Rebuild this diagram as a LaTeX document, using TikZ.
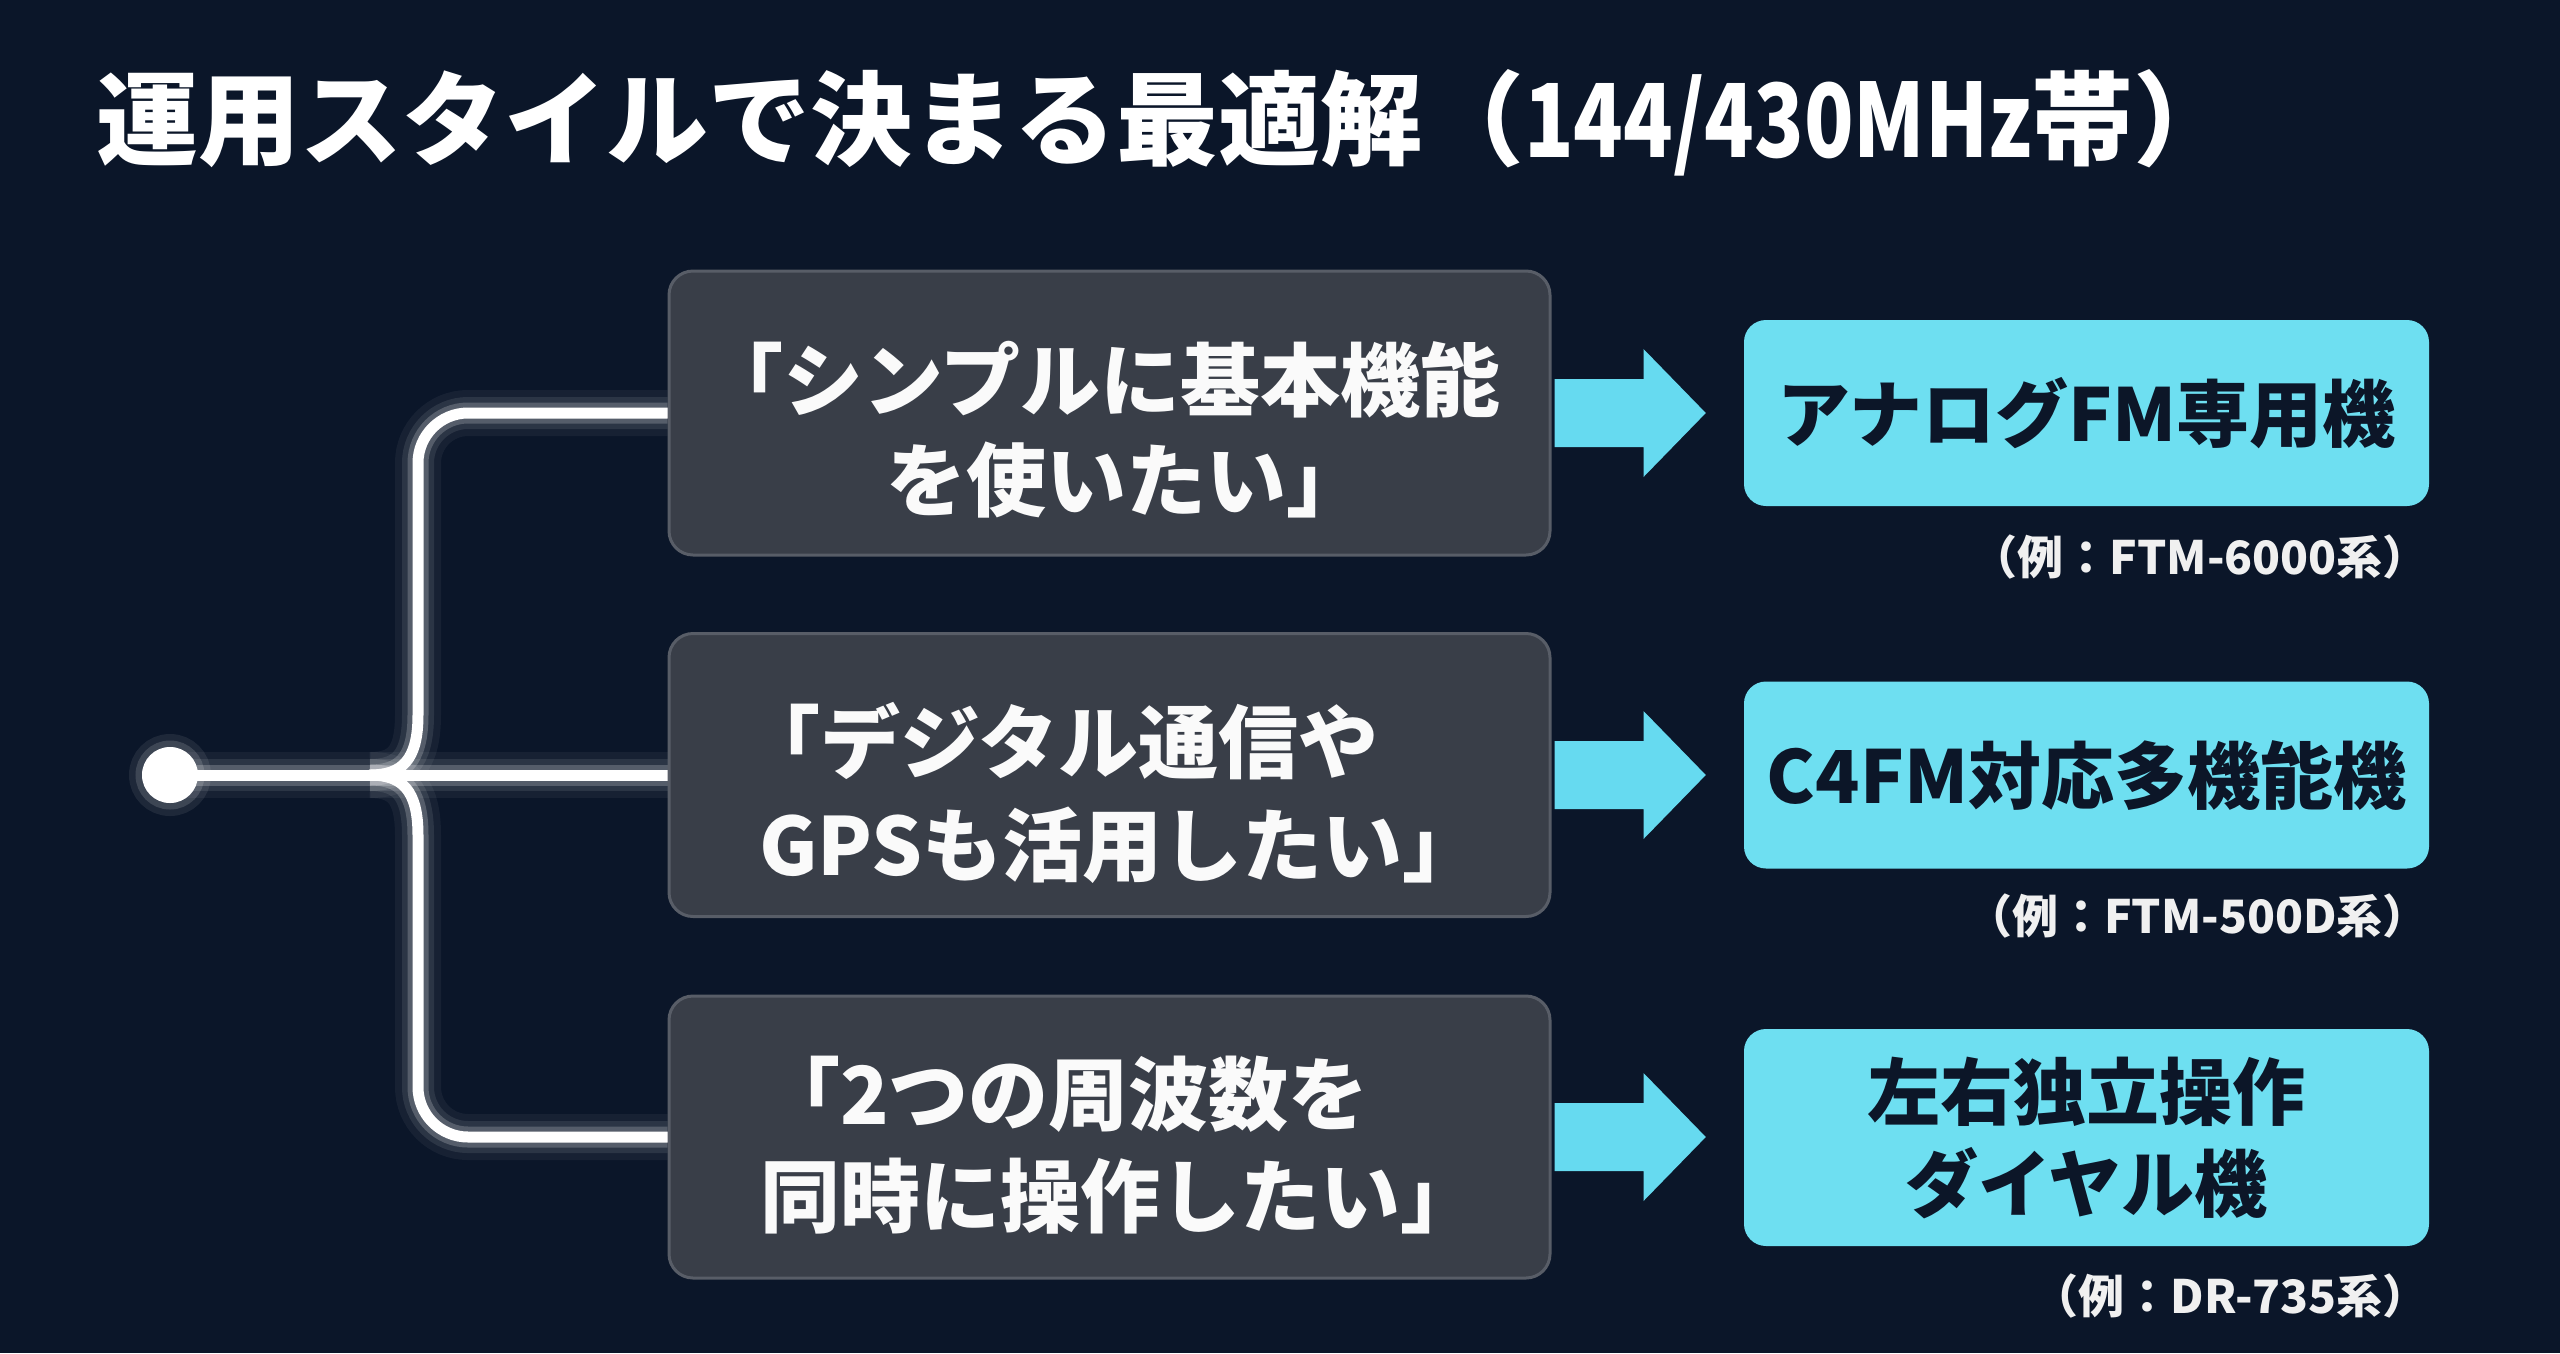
\documentclass[tikz,border=0pt]{standalone}
\usepackage{fontspec}
\usepackage{graphicx}
\setmainfont{Noto Sans CJK JP}
\usetikzlibrary{calc}
\definecolor{bgc}{RGB}{11,22,41}
\definecolor{grayfill}{RGB}{57,62,72}
\definecolor{grayedge}{RGB}{88,93,103}
\definecolor{cyanc}{RGB}{110,223,241}
\definecolor{arrowc}{RGB}{102,218,240}
\definecolor{navytext}{RGB}{12,22,40}
\definecolor{whitetext}{RGB}{250,250,250}
\pgfdeclarelayer{bgfill}
\pgfdeclarelayer{wires}
\pgfsetlayers{bgfill,wires,main}
\newcommand\titlefont{\fontsize{102}{112}\selectfont\bfseries}
\newcommand\qfont{\fontsize{80}{100}\selectfont\bfseries}
\newcommand\afont{\fontsize{73}{92}\selectfont\bfseries}
\newcommand\exfont{\fontsize{46}{56}\selectfont\bfseries}
\newcommand\myarrow[2]{%
  \fill[arrowc] ($(#1.east)+(3,-34)$) -- ($(#1.east)+(92,-34)$) -- ($(#1.east)+(92,-64)$)
    -- ($(#1.east -| #2.west)+(-38,0)$) -- ($(#1.east)+(92,64)$) -- ($(#1.east)+(92,34)$)
    -- ($(#1.east)+(3,34)$) -- cycle;}
\begin{document}
\begin{tikzpicture}[x=1pt,y=-1pt,
  graybox/.style={draw=grayedge, line width=3pt, fill=grayfill, rounded corners=24pt,
    inner sep=0pt, minimum width=881pt},
  cyanbox/.style={fill=cyanc, rounded corners=22pt, inner sep=0pt, minimum width=685pt,
    text=navytext, align=center, font=\afont},
  qline/.style={anchor=base west, inner sep=0pt, text=whitetext, font=\qfont},
  exline/.style={anchor=base east, inner sep=0pt, text=whitetext!92!gray, font=\exfont},
  wire/.style={draw=white, line width=11pt, line cap=round,
    preaction={draw=white, line width=46pt, opacity=0.05},
    preaction={draw=white, line width=32pt, opacity=0.09},
    preaction={draw=white, line width=21pt, opacity=0.2}},
  dotstyle/.style={circle, fill=white, minimum size=56pt, inner sep=0pt}
]
\begin{pgfonlayer}{bgfill}
\fill[bgc] (0,0) rectangle (2560,1353);
\end{pgfonlayer}
\useasboundingbox (0,0) rectangle (2560,1353);

% title
\node[anchor=base west, inner sep=0pt, text=white, font=\titlefont] (title) at (96,157)
  {運用スタイルで決まる最適解（\scalebox{0.8}[1]{144/430MHz}帯）};

% question boxes
\node[graybox, minimum height=284pt] (g1) at (1109.5,413) {};
\node[graybox, minimum height=283pt] (g2) at (1109.5,775) {};
\node[graybox, minimum height=282pt] (g3) at (1109.5,1137) {};

\node[qline] (q1a) at (703,410) {「シンプルに基本機能};
\node[qline] (q1b) at (886,510) {を使いたい」};
\node[qline] (q2a) at (740,772) {「デジタル通信や};
\node[qline] (q2b) at (759,875) {GPSも活用したい」};
\node[qline] (q3a) at (760,1124) {「2つの周波数を};
\node[qline] (q3b) at (760,1226) {同時に操作したい」};

% answer boxes
\node[cyanbox, minimum height=186pt] (c1) at (2086.5,413) {アナログFM専用機};
\node[cyanbox, minimum height=187pt] (c2) at (2086.5,775) {C4FM対応多機能機};
\node[cyanbox, minimum height=217pt] (c3) at (2086.5,1137.5) {\raisebox{-6pt}{\parbox{600pt}{\centering 左右独立操作\\ダイヤル機}}};

% examples
\node[exline] (e1) at (2429,574) {（例：FTM-6000系）};
\node[exline] (e2) at (2429,933) {（例：FTM-500D系）};
\node[exline] (e3) at (2429,1313) {（例：DR-735系）};

% arrows
\myarrow{g1}{c1}
\myarrow{g2}{c2}
\myarrow{g3}{c3}

% tree
\node[dotstyle, preaction={fill=white, opacity=0.08, draw=white, line width=26pt},
  preaction={fill=white, opacity=0.14, draw=white, line width=13pt}] (dot) at (170,775) {};
\coordinate (split) at (370,775);
\coordinate (trunk) at (418,775);
\begin{pgfonlayer}{wires}
\draw[wire] (dot.center) -- (g2.west);
\draw[wire] (split) .. controls (402,775) and (418,760) .. (418,715)
  [rounded corners=50pt] -- (trunk |- g1.west) -- (g1.west);
\draw[wire] (split) .. controls (402,775) and (418,790) .. (418,835)
  [rounded corners=50pt] -- (trunk |- g3.west) -- (g3.west);
\end{pgfonlayer}
\end{tikzpicture}
\end{document}
